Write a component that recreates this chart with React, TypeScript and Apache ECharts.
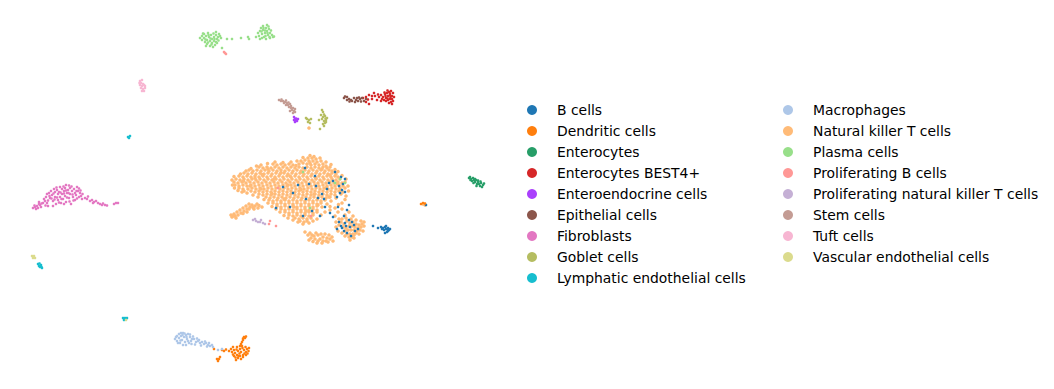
import React, { useEffect, useRef } from "react";
import * as echarts from "echarts";

const bCells = [[386,229],[384,230],[388,228],[385,227],[387,232],[383,228],[389,230],[386,226],[385,233],[382,229],[388,231],[387,229],[390,229],[373,226],[378,228],[381,227],
[340,193],[337,197],[342,190],[345,192],[339,186],[343,184],[329,183],[341,177],[345,179],[335,172],[333,181],[327,189],[322,194],[318,198],[309,184],[306,199],[298,185],[283,187],[305,168],[315,176],[312,211],[330,213],[338,207],[347,210],[349,205],[344,216],[339,222],[344,231],[341,226],[350,227],[352,222],[347,233],[355,231],[351,236],[358,229],[345,223],[337,229],[320,216],[325,207],[333,217],[290,207],[303,216],[324,199],[316,186],[276,208],[293,193],[349,220],[354,225],[342,228],[346,226],[426,205]];
const dendritic = [[232,352],[235,353],[238,351],[241,352],[244,350],[247,349],[249,348],[246,352],[243,355],[240,356],[237,355],[234,356],[238,358],[241,359],[236,360],[243,357],[246,355],[234,350],[242,342],[243,340],[245,338],[244,337],[241,344],[240,346],[218,361],[217,359],[219,359],[224,351],[222,350],[229,351],[214,349],[233,347],[421,204],
[236.5,349.5],[239.5,353.5],[242.5,348],[245.5,347],[248.5,351],[233,354.5],[235.5,357.5],[238.5,356],[244.5,353.5],[247.5,353.5],[231,349],[240,349],[237,347],[242,346],[243,338.5],[246,336.5],[226,349.5],[220,357],[423,203],[425,203.5]];
const enterocytes = [[469,178],[471,179],[472,181],[474,180],[475,182],[476,180],[478,182],[479,184],[481,183],[480,186],[483,185],[477,184],[473,178],[470,177],[482,187],[475,179],[470.5,180],[473.5,183],[478,180.5],[480.5,181.5],[484,183.5],[476.5,186]];
const best4 = [[363,98],[366,97],[369,95],[372,99],[375,96],[377,100],[379,97],[381,95],[383,97],[385,94],[387,93],[389,92],[391,91],[393,93],[392,96],[390,95],[388,96],[386,98],[384,100],[386,101],[388,100],[390,99],[392,99],[394,97],[391,102],[389,103],[392,104],[369,104],[366,102],[374,93],[381,101],[384.5,92.5],[387.5,90.5],[390,93.5],[385.5,96],[382,99],[378,94.5],[393,101],[390.5,97],[387.5,98.5],[372,96],[368,99.5]];
const enteroendocrine = [[294,117],[295,119],[296,120],[298,119],[295,122],[297,121],[294,120],[296,118.5]];
const epithelial = [[344,98],[347,97],[349,99],[351,100],[354,98],[356,100],[358,101],[360,99],[362,98],[364,101],[357,98],[352,101],[347,100],[345,96.5],[349.5,101.5],[355,102],[359,97.5],[361,101.5],[366,99]];
const fibroblasts = [[33,208],[35,207],[37,206],[38,208],[40,205],[36,209],[39,204],[41,207],[43,203],[44,199],[46,197],[45,201],[47,203],[48,206],[49,193],[50,198],[51,191],[52,195],[53,201],[54,189],[55,192],[55,197],[56,204],[57,190],[58,194],[58,200],[59,192],[60,187],[60,197],[61,203],[62,189],[62,194],[63,199],[64,191],[65,196],[65,188],[66,202],[67,193],[68,190],[69,198],[70,188],[70,194],[71,204],[72,191],[73,197],[74,189],[75,193],[75,200],[76,195],[77,187],[78,191],[79,197],[80,193],[81,196],[82,199],[85,198],[87,199],[90,201],[92,200],[94,202],[96,201],[98,203],[100,204],[102,205],[105,205],[114,204],[116,203],[118,203],[47,194],[53,206],[64,204],[39,202],
[34.5,205.5],[41.5,203.5],[45.5,205.5],[48,200.5],[49.5,196],[51.5,198.5],[53.5,193.5],[54.5,199.5],[56.5,187.5],[57,197.5],[59,202.5],[60.5,192.5],[61.5,199],[63.5,186.5],[64,193.5],[66,190.5],[67,197.5],[68.5,193],[69.5,201.5],[71.5,186.5],[72.5,194.5],[73.5,200.5],[76.5,191],[77,198.5],[79,188.5],[80.5,190.5],[82.5,194],[66,185],[69,185.5],[88,196.5],[93,203],[103,203.5],[107,205.5]];
const goblet = [[307,119],[309,120],[311,119],[308,122],[310,123],[306,118],[322,110],[323,112],[321,115],[323,117],[325,116],[322,119],[324,121],[326,120],[323,124],[325,123],[327,118],[320,129],[319,120],[324,114.5],[325.5,118.5],[326,122],[324,126]];
const lymphatic = [[128,137],[130,136],[129,138],[38,264],[39,266],[41,265],[40,267],[42,268],[123,318],[125,318],[127,318],[124,320],[126,319],[39.5,263.5],[41.5,267]];
const macrophages = [[175,339],[177,336],[177,341],[179,334],[179,338],[180,343],[181,336],[182,340],[183,333],[183,345],[184,337],[185,342],[186,335],[187,339],[188,334],[189,343],[190,337],[191,341],[192,339],[176,337],[194,339],[196,342],[198,341],[200,343],[202,342],[204,344],[206,343],[208,345],[210,346],[212,345],[213,347],[218,350],[222,349],[186,345],[181,333],
[178,343],[180.5,340.5],[182.5,335],[184.5,333.5],[186.5,337],[188,341],[190,334.5],[191.5,344],[193,336.5],[195,344.5],[197,338.5],[199,340],[201,345.5],[205,341.5],[207,346.5],[209,343]];
const nkt = [
[308,158],[312,158],[316,159],[301,161],[305,160],[309,161],[313,161],[317,162],[321,161],
[273,164],[277,165],[281,164],[285,165],[289,164],[293,165],[299,164],[303,163],[307,164],[311,165],[315,164],[319,165],[323,164],[326,166],
[259,167],[263,168],[267,167],[271,168],[275,167],[279,168],[283,167],[287,168],[291,167],[295,168],[299,167],[303,168],[307,167],[311,168],[315,167],[319,168],[323,167],[327,168],[330,167],
[249,170],[253,171],[257,170],[261,171],[265,170],[269,171],[273,170],[277,171],[281,170],[285,171],[289,170],[293,171],[297,170],[301,171],[305,170],[309,171],[313,170],[317,171],[321,170],[325,171],[329,170],[332,171],
[244,173],[248,174],[252,173],[256,174],[260,173],[264,174],[268,173],[272,174],[276,173],[280,174],[284,173],[288,174],[292,173],[296,174],[300,173],[304,174],[308,173],[312,174],[316,173],[320,174],[324,173],[328,174],[332,173],[336,174],
[239,176],[243,177],[247,176],[251,177],[255,176],[259,177],[263,176],[267,177],[271,176],[275,177],[279,176],[283,177],[287,176],[291,177],[295,176],[299,177],[303,176],[307,177],[311,176],[315,177],[319,176],[323,177],[327,176],[331,177],[335,176],[338,177],
[236,179],[240,180],[244,179],[248,180],[252,179],[256,180],[260,179],[264,180],[268,179],[272,180],[276,179],[280,180],[284,179],[288,180],[292,179],[296,180],[300,179],[304,180],[308,179],[312,180],[316,179],[320,180],[324,179],[328,180],[332,179],[336,180],[340,179],
[234,182],[238,183],[242,182],[246,183],[250,182],[254,183],[258,182],[262,183],[266,182],[270,183],[274,182],[278,183],[282,182],[286,183],[290,182],[294,183],[298,182],[302,183],[306,182],[310,183],[314,182],[318,183],[322,182],[326,183],[330,182],[334,183],[338,182],[342,183],[345,182],
[235,185],[239,186],[243,185],[247,186],[251,185],[255,186],[259,185],[263,186],[267,185],[271,186],[275,185],[279,186],[283,185],[287,186],[291,185],[295,186],[299,185],[303,186],[307,185],[311,186],[315,185],[319,186],[323,185],[327,186],[331,185],[335,186],[339,185],[343,186],
[239,188],[243,189],[248,189],[252,188],[256,189],[260,188],[264,189],[268,188],[272,189],[276,188],[280,189],[284,188],[288,189],[292,188],[296,189],[300,188],[304,189],[308,188],[312,189],[316,188],[320,189],[324,188],[328,189],[332,188],[336,189],[340,188],[345,188],
[244,191],[251,191],[255,192],[259,191],[263,192],[267,191],[271,192],[275,191],[279,192],[283,191],[287,192],[291,191],[295,192],[299,191],[303,192],[307,191],[311,192],[315,191],[319,192],[323,191],[327,192],[331,191],[335,192],[339,191],[343,192],
[259,194],[263,195],[267,194],[271,195],[275,194],[279,195],[283,194],[287,195],[291,194],[295,195],[299,194],[303,195],[307,194],[311,195],[315,194],[319,195],[323,194],[327,195],[331,194],[335,195],[341,194],
[266,197],[270,198],[274,197],[278,198],[282,197],[286,198],[290,197],[294,198],[298,197],[302,198],[306,197],[310,198],[314,197],[318,198],[322,197],[326,198],[330,197],[336,198],
[269,200],[273,201],[277,200],[281,201],[285,200],[289,201],[293,200],[297,201],[301,200],[305,201],[309,200],[313,201],[317,200],[321,201],[325,200],[331,201],
[273,203],[277,204],[281,203],[285,204],[289,203],[293,204],[297,203],[301,204],[305,203],[309,204],[313,203],[317,204],[321,203],[327,204],
[277,206],[281,207],[285,206],[289,207],[293,206],[297,207],[301,206],[305,207],[309,206],[313,207],[317,206],[322,207],
[281,209],[285,210],[289,209],[293,210],[297,209],[301,210],[305,209],[309,210],[313,209],[317,210],
[285,212],[289,213],[293,212],[297,213],[301,212],[305,213],[309,212],[313,213],[317,212],
[289,215],[293,216],[297,215],[301,216],[305,215],[309,216],[313,215],
[295,218],[299,219],[303,218],[307,219],[311,218],
[300,221],[304,222],[307,221],
[232,217],[235,216],[234,214],[238,215],[237,212],[241,213],[240,210],[244,211],[243,208],[247,209],[246,206],[250,207],[252,205],[249,204],[255,206],[257,204],[233,216],[247,212],[254,209],[258,208],
[310,233],[314,236],[311,238],[315,239],[318,235],[320,239],[318,241],[323,237],[323,241],[327,238],[326,241],[330,239],[316,233],[321,234],[329,235],[312,235],[325,234],
[341,222],[344,224],[347,221],[350,223],[353,222],[356,224],[359,225],[362,224],[343,227],[346,228],[349,226],[352,226],[355,227],[358,228],[361,227],[345,231],[348,230],[351,230],[354,230],[357,231],[360,230],[347,234],[350,234],[353,234],[356,233],[349,237],[352,237],[354,238],[339,225],[345,215],[349,212],[335,216],[330,210],[338,212],[342,209],[353,216],
[309,128],[423,204],[425,205]
];
const nktFringe = [[240.5,174],[246,171],[251,168.5],[256.5,166],[261,165],[267.5,163.5],[275,162],[283,162.5],[291,162],[297,161],[303,157.5],[310,155.5],[314,156.5],[320,158],[326,162],[331,164.5],[335,169.5],[338,171.5],[342,175.5],[346,179],[348,186],[348.5,191],[346,196],[345,199.5],[342,203],[338.5,204.5],[335,208],[330,206.5],[325,212],[321,215],[317,219],[313,221],[309,223],[303,224],[298,222],[293,220],[288,218],[284,215.5],[280,212],[276,209],[272,206.5],[268,203],[264,199.5],[258,197],[253,195],[247,193],[242,192],[238,190.5],[234.5,188],[232.5,185],[232,180],[234,176.5],
[243.5,181],[255,178],[268,169],[281,172.5],[296,165.5],[310,163],[322,169],[330,175],[337,183.5],[341,190],[329,197],[318,205],[306,211],[294,207],[284,199],[272,193.5],[261,189],[250,186],[262,174.5],[274,179],[288,185],[301,189.5],[314,194],[326,188],[316,178],[302,172],[290,176],
[231,215],[236,218],[243,213.5],[249,209],[253,207.5],[259,205.5],[262,207],
[308,235],[309,240],[313,241.5],[317,243],[322,243],[328,242],[332,237],[333,241],[305,232],
[336,222],[339,219],[342,219],[346,218],[351,219],[356,220],[361,221],[364,226],[363,231],[359,234],[354,235],[350,240],[345,236],[342,233],[338,231],[364,222],[336,227]];
const plasma = [[200,38],[202,36],[202,40],[204,34],[204,38],[205,42],[206,36],[207,40],[207,44],[208,33],[209,37],[210,41],[210,46],[211,35],[212,39],[212,43],[213,47],[214,37],[214,41],[215,45],[216,35],[217,39],[217,43],[218,37],[219,34],[220,36],[216,32],[256,37],[258,33],[259,36],[260,31],[261,28],[262,34],[263,30],[263,26],[264,37],[265,33],[266,28],[267,25],[267,31],[268,35],[269,29],[270,33],[270,38],[272,35],[273,37],[266,39],[260,39],[227,39],[232,39],[241,38],[249,39],[248,37],[222,48],[310,208],[335,183],[303,172],[340,179],[345,183],
[203,33.5],[205.5,39.5],[208.5,35],[208,42.5],[210.5,38.5],[211.5,44.5],[213.5,33.5],[214.5,39],[216,42],[218.5,40.5],[221,38],[206,46],[261.5,31.5],[263.5,28],[265,30.5],[265.5,36],[267.5,33],[268.5,26.5],[271,30.5],[274,36.5],[262,38],[269.5,37]];
const prolifB = [[224,52],[225,53],[226,54],[270,221],[269,224],[276,226],[311,216],[278,188]];
const prolifNK = [[253,220],[256,221],[258,222],[260,222],[263,223],[265,224],[261,220],[255,219]];
const stem = [[279,100],[281,101],[283,101],[285,102],[287,103],[286,105],[288,105],[290,104],[289,107],[291,108],[293,108],[292,110],[294,111],[295,109],[290,111],[293,113],[284,103],[281.5,99.5],[286,100.5],[288.5,102.5],[291,106],[295,112]];
const tuft = [[140,81],[142,80],[141,83],[143,84],[140,85],[142,86],[144,85],[141,88],[143,89],[145,88],[144,91],[142,91],[145,86],[139.5,83]];
const vascular = [[32,256],[34,256],[33,258],[35,258],[126,320]];

const legendLeft = ["B cells","Dendritic cells","Enterocytes","Enterocytes BEST4+","Enteroendocrine cells","Epithelial cells","Fibroblasts","Goblet cells","Lymphatic endothelial cells"];
const legendRight = ["Macrophages","Natural killer T cells","Plasma cells","Proliferating B cells","Proliferating natural killer T cells","Stem cells","Tuft cells","Vascular endothelial cells"];

const drawn: [string, number[][], string][] = [
  ["Natural killer T cells", nkt.concat(nktFringe), "#ffbb78"],
  ["B cells", bCells, "#1f77b4"],
  ["Dendritic cells", dendritic, "#ff7f0e"],
  ["Enterocytes", enterocytes, "#279e68"],
  ["Enterocytes BEST4+", best4, "#d62728"],
  ["Enteroendocrine cells", enteroendocrine, "#aa40fc"],
  ["Epithelial cells", epithelial, "#8c564b"],
  ["Fibroblasts", fibroblasts, "#e377c2"],
  ["Goblet cells", goblet, "#b5bd61"],
  ["Lymphatic endothelial cells", lymphatic, "#17becf"],
  ["Macrophages", macrophages, "#aec7e8"],
  ["Plasma cells", plasma, "#98df8a"],
  ["Proliferating B cells", prolifB, "#ff9896"],
  ["Proliferating natural killer T cells", prolifNK, "#c5b0d5"],
  ["Stem cells", stem, "#c49c94"],
  ["Tuft cells", tuft, "#f7b6d2"],
  ["Vascular endothelial cells", vascular, "#dbdb8d"],
];

const legendBase = {
  orient: "vertical" as const,
  icon: "circle",
  itemWidth: 10,
  itemHeight: 10,
  itemGap: 5,
  selectedMode: false,
  textStyle: { fontFamily: "DejaVu Sans", fontSize: 13.9, color: "#000", padding: [0, 0, 0, 15], lineHeight: 16 },
};

export default function App() {
  const ref = useRef<HTMLDivElement>(null);
  useEffect(() => {
    const chart = echarts.init(ref.current!, null, { renderer: "svg" });
    chart.setOption({
      animation: false,
      backgroundColor: "#fff",
      grid: { left: 0, top: 0, width: 1054, height: 389 },
      xAxis: { type: "value", min: 0, max: 1054, show: false },
      yAxis: { type: "value", min: 0, max: 389, inverse: true, show: false },
      legend: [
        { ...legendBase, left: 522, top: 97, data: legendLeft },
        { ...legendBase, left: 778, top: 97, data: legendRight },
      ],
      series: drawn.map(([name, data, color]) => ({
        name,
        type: "scatter",
        data,
        symbolSize: name === "Natural killer T cells" ? 3.6 : 2.6,
        itemStyle: { color, opacity: 1 },
        silent: true,
      })),
    });
    return () => chart.dispose();
  }, []);
  return <div ref={ref} style={{ position: "absolute", left: 0, top: 0, width: 1054, height: 389 }} />;
}
